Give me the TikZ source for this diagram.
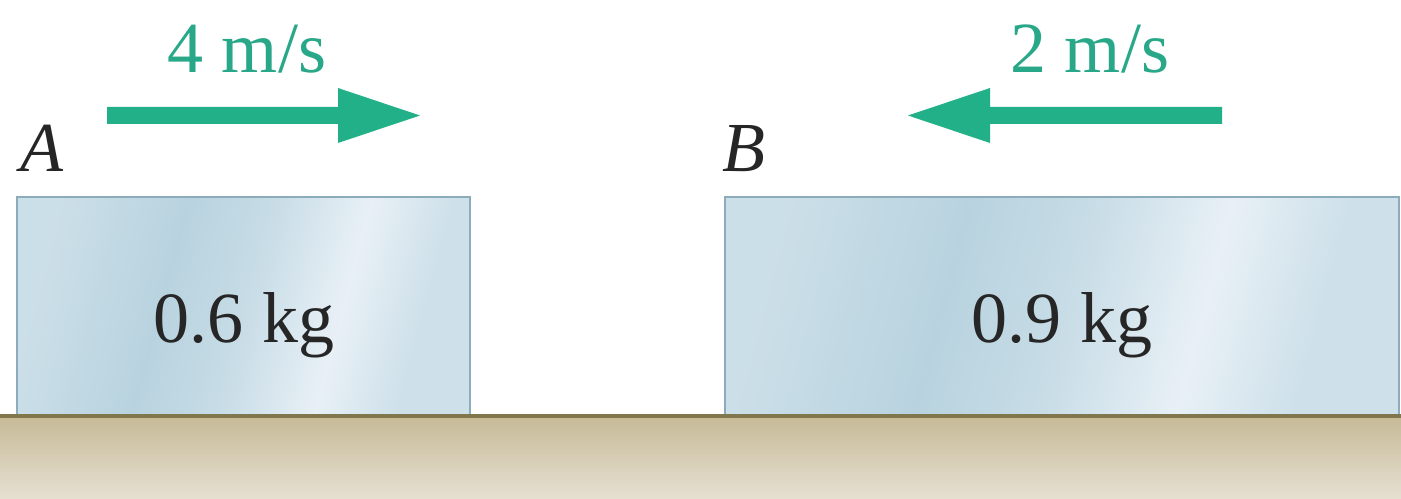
\documentclass[tikz,border=0pt]{standalone}
\usepackage{fontspec}
\setmainfont{Liberation Serif}
\definecolor{arrowgreen}{RGB}{34,176,136}
\definecolor{labelgreen}{RGB}{40,168,136}
\definecolor{boxedge}{RGB}{140,172,188}
\definecolor{boxA}{RGB}{184,211,223}
\definecolor{boxB}{RGB}{232,240,246}
\definecolor{groundtop}{RGB}{198,186,150}
\definecolor{groundbot}{RGB}{230,224,210}
\definecolor{groundline}{RGB}{128,120,76}
\pgfdeclarehorizontalshading{blockshade}{100bp}{
  color(0bp)=(boxA!60!boxB); color(25bp)=(boxA!60!boxB); color(40bp)=(boxA); color(50bp)=(boxA!70!boxB);
  color(62bp)=(boxB); color(72bp)=(boxA!55!boxB); color(100bp)=(boxA!55!boxB)}
\tikzset{
  block/.style={draw=boxedge, line width=0.03cm, shading=blockshade, shading angle=-15},
  velo/.style={fill=arrowgreen, draw=none},
  vlabel/.style={text=labelgreen, anchor=base, inner sep=0pt, font=\fontsize{41}{48}\selectfont},
  mlabel/.style={text=black!85, anchor=base, inner sep=0pt, font=\fontsize{41}{48}\selectfont},
  blockname/.style={text=black!85, anchor=base west, inner sep=0pt, font=\fontsize{40}{48}\selectfont\itshape}
}
\begin{document}
\begin{tikzpicture}[x=0.02cm, y=-0.02cm]
\useasboundingbox (0,0) rectangle (1401,499);
\fill[white] (0,0) rectangle (1401,499);
% ground
\shade[top color=groundtop, bottom color=groundbot] (0,416) rectangle (1401,499);
% blocks
\path[block] (17,197) rectangle (470,415);
\path[block] (725,197) rectangle (1399,415);
\draw[groundline, line width=0.08cm] (0,416) -- (1401,416);
% mass labels
\node[mlabel] (mA) at (244,343) {0.6 kg};
\node[mlabel] (mB) at (1062,343) {0.9 kg};
% names
\node[blockname] (nA) at (20,172) {A};
\node[blockname] (nB) at (722,172) {B};
% velocity arrows
\fill[velo] (107,107) -- (338,107) -- (338,88) -- (420,115.5) -- (338,143) -- (338,124) -- (107,124) -- cycle;
\fill[velo] (1222,107) -- (990,107) -- (990,88) -- (908,115.5) -- (990,143) -- (990,124) -- (1222,124) -- cycle;
% velocity labels
\node[vlabel] (vA) at (247,73) {4 m/s};
\node[vlabel] (vB) at (1090,73) {2 m/s};
\end{tikzpicture}
\end{document}
